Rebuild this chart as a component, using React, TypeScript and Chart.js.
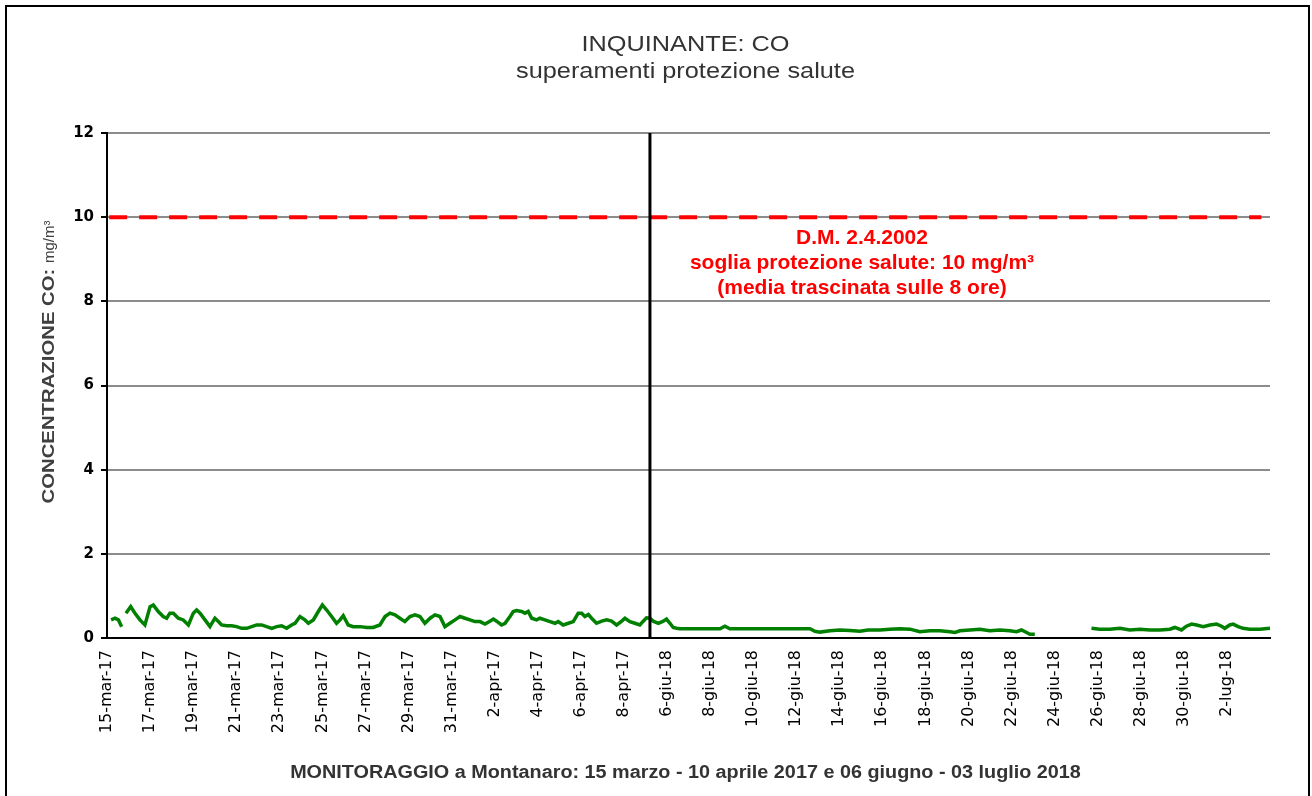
import React, { useEffect, useRef } from "react";
import { Chart, registerables } from "chart.js";
Chart.register(...registerables);

// ---- data ----
const TICK_LABELS = [
  "15-mar-17", "17-mar-17", "19-mar-17", "21-mar-17", "23-mar-17", "25-mar-17", "27-mar-17",
  "29-mar-17", "31-mar-17", "2-apr-17", "4-apr-17", "6-apr-17", "8-apr-17",
  "6-giu-18", "8-giu-18", "10-giu-18", "12-giu-18", "14-giu-18", "16-giu-18", "18-giu-18",
  "20-giu-18", "22-giu-18", "24-giu-18", "26-giu-18", "28-giu-18", "30-giu-18", "2-lug-18",
];
const Y_TICKS = [0, 2, 4, 6, 8, 10, 12];

// day offset on the monitoring axis (days since 15-mar-17 start, with the 2018 period following)
const DAYS_2017 = [
  0.19, 0.37, 0.53, 0.68, 0.78, 0.88, 1.10, 1.30, 1.53, 1.76, 2.00, 2.15, 2.38, 2.61, 2.77, 2.92,
  3.08, 3.31, 3.54, 3.78, 4.01, 4.16, 4.32, 4.55, 4.78, 5.01, 5.17, 5.32, 5.56, 5.79, 6.02, 6.25,
  6.49, 6.72, 6.95, 7.18, 7.41, 7.65, 7.88, 8.11, 8.34, 8.57, 8.73, 8.96, 9.19, 9.35, 9.58, 9.81,
  10.0, 10.2, 10.43, 10.66, 10.82, 10.97, 11.2, 11.43, 11.75, 12.06, 12.36, 12.67, 12.91, 13.14,
  13.37, 13.6, 13.83, 14.07, 14.3, 14.53, 14.76, 15.0, 15.23, 15.46, 15.69, 15.92, 16.16, 16.39,
  16.62, 16.85, 17.08, 17.32, 17.55, 17.78, 17.94, 18.09, 18.32, 18.48, 18.71, 18.86, 19.02, 19.25,
  19.41, 19.56, 19.72, 19.95, 20.1, 20.33, 20.57, 20.8, 20.95, 21.18, 21.42, 21.65, 21.88, 22.04,
  22.19, 22.35, 22.5, 22.73, 22.97, 23.2, 23.43, 23.66, 23.9, 24.05, 24.28, 24.51, 24.74, 24.9,
  25.05, 25.21,
];
const CO_2017 = [
  0.43, 0.47, 0.43, 0.27, null, 0.59, 0.745, 0.59, 0.43, 0.31, 0.745, 0.785, 0.63, 0.51, 0.47, 0.59,
  0.59, 0.47, 0.43, 0.31, 0.59, 0.665, 0.59, 0.43, 0.27, 0.47, 0.39, 0.31, 0.29, 0.29, 0.27, 0.23,
  0.23, 0.27, 0.31, 0.31, 0.27, 0.23, 0.27, 0.29, 0.23, 0.31, 0.35, 0.51, 0.43, 0.35, 0.43, 0.63,
  0.785, 0.665, 0.51, 0.35, 0.43, 0.53, 0.31, 0.27, 0.27, 0.25, 0.25, 0.31, 0.51, 0.59,
  0.55, 0.47, 0.39, 0.51, 0.55, 0.51, 0.35, 0.47, 0.55, 0.51, 0.27, 0.35, 0.43, 0.51,
  0.47, 0.43, 0.39, 0.39, 0.33, 0.40, 0.45, 0.40, 0.31, 0.35, 0.51, 0.63, 0.65, 0.63,
  0.59, 0.63, 0.47, 0.43, 0.47, 0.43, 0.39, 0.35, 0.39, 0.31, 0.35, 0.39, 0.59, 0.59,
  0.51, 0.56, 0.47, 0.35, 0.40, 0.43, 0.40, 0.31, 0.40, 0.47, 0.39, 0.35, 0.31, 0.40,
  0.48, 0.47,
];
const DAYS_2018 = [
  25.21, 25.36, 25.6, 25.83, 25.98, 26.14, 26.29, 26.45, 26.6, 27.53, 28.46, 28.69, 28.92, 29.85,
  30.78, 31.71, 32.64, 32.87, 33.1, 33.57, 34.03, 34.49, 34.96, 35.33, 35.89, 36.35, 36.82, 37.28,
  37.74, 38.21, 38.67, 39.14, 39.37, 39.6, 40.07, 40.53, 40.99, 41.46, 41.92, 42.23, 42.46, 42.7,
  42.85, 43.08, 43.2, 45.71, 46.1, 46.56, 47.03, 47.49, 47.96, 48.42, 48.89, 49.35, 49.58, 49.89,
  50.12, 50.36, 50.59, 50.9, 51.21, 51.52, 51.75, 51.9, 52.13, 52.29, 52.52, 52.75, 53.06, 53.53,
  54.0,
];
const CO_2018 = [
  0.47, 0.40, 0.35, 0.40, 0.45, 0.35, 0.25, 0.23, 0.22, 0.22, 0.22, 0.28, 0.22, 0.22,
  0.22, 0.22, 0.22, 0.16, 0.14, 0.17, 0.19, 0.18, 0.16, 0.19, 0.19, 0.21, 0.22, 0.21,
  0.15, 0.17, 0.17, 0.15, 0.13, 0.17, 0.19, 0.21, 0.17, 0.19, 0.17, 0.15, 0.19, 0.13,
  0.09, 0.09, null, 0.23, 0.21, 0.21, 0.23, 0.19, 0.21, 0.19, 0.19, 0.21, 0.25, 0.19,
  0.28, 0.33, 0.31, 0.27, 0.31, 0.33, 0.28, 0.23, 0.31, 0.33, 0.27, 0.23, 0.21, 0.21,
  0.23,
];

const THRESHOLD = 10;
const THRESHOLD_SPAN = [0.1, 53.6];
const PERIOD_BREAK = 25.21;

const TITLE = "INQUINANTE: CO";
const SUBTITLE = "superamenti protezione salute";
const NOTE_LINES = [
  "D.M. 2.4.2002",
  "soglia protezione salute: 10 mg/m³",
  "(media trascinata sulle 8 ore)",
];
const Y_TITLE_BOLD = "CONCENTRAZIONE CO:";
const Y_TITLE_UNIT = "mg/m³";
const X_TITLE = "MONITORAGGIO a Montanaro: 15 marzo - 10 aprile 2017 e 06 giugno - 03 luglio 2018";

const SANS = '"Liberation Sans", Arial, sans-serif';

function drawText(
  ctx: CanvasRenderingContext2D,
  s: string,
  x: number,
  y: number,
  font: string,
  color: string,
  sx = 1
) {
  ctx.save();
  ctx.font = font;
  ctx.fillStyle = color;
  ctx.textAlign = "center";
  ctx.textBaseline = "alphabetic";
  ctx.translate(x, y);
  ctx.scale(sx, 1);
  ctx.fillText(s, 0, 0);
  ctx.restore();
}

const decorPlugin = {
  id: "decor",
  beforeDraw(chart: any) {
    const ctx = chart.ctx as CanvasRenderingContext2D;
    ctx.save();
    ctx.fillStyle = "#fff";
    ctx.fillRect(0, 0, chart.width, chart.height);
    ctx.strokeStyle = "#000";
    ctx.lineWidth = 2;
    ctx.strokeRect(6, 6, 1303, 900);
    ctx.restore();
  },
  afterDraw(chart: any) {
    const ctx = chart.ctx as CanvasRenderingContext2D;
    const a = chart.chartArea;
    const cx = (a.left + a.right) / 2 - 3;
    // titles
    drawText(ctx, TITLE, cx, 51, `22px ${SANS}`, "#333", 1.15);
    drawText(ctx, SUBTITLE, cx, 78, `22px ${SANS}`, "#333", 1.15);
    // red note
    const nx = 862;
    [244, 269, 294].forEach((by, i) =>
      drawText(ctx, NOTE_LINES[i], nx, by, `bold 21px ${SANS}`, "#ff0000")
    );
    // y title
    ctx.save();
    ctx.translate(54, 362);
    ctx.rotate(-Math.PI / 2);
    ctx.fillStyle = "#404040";
    ctx.textBaseline = "alphabetic";
    ctx.textAlign = "left";
    const boldFont = `bold 16px ${SANS}`;
    const regFont = `15px ${SANS}`;
    const bsx = 1.27;
    ctx.font = boldFont;
    const w1 = ctx.measureText(Y_TITLE_BOLD + " ").width * bsx;
    ctx.font = regFont;
    const w2 = ctx.measureText(Y_TITLE_UNIT).width;
    const start = -(w1 + w2) / 2;
    ctx.save();
    ctx.translate(start, 0);
    ctx.scale(bsx, 1);
    ctx.font = boldFont;
    ctx.fillText(Y_TITLE_BOLD, 0, 0);
    ctx.restore();
    ctx.font = regFont;
    ctx.fillText(Y_TITLE_UNIT, start + w1, 0);
    ctx.restore();
    // bottom caption
    drawText(ctx, X_TITLE, cx, 778, `bold 18px ${SANS}`, "#333", 1.1);
  },
};

export default function App() {
  const ref = useRef<HTMLCanvasElement | null>(null);
  useEffect(() => {
    document.body.style.margin = "0";
    const canvas = ref.current!;
    const pts = (xs: number[], ys: (number | null)[]) => xs.map((x, i) => ({ x, y: ys[i] }));
    const chart = new Chart(canvas, {
      type: "line",
      data: {
        datasets: [
          {
            label: "break",
            data: [
              { x: PERIOD_BREAK, y: Y_TICKS[0] },
              { x: PERIOD_BREAK, y: Y_TICKS[Y_TICKS.length - 1] },
            ],
            borderColor: "#000",
            borderWidth: 3,
            pointRadius: 0,
            order: 0,
          },
          {
            label: "CO 2017",
            data: pts(DAYS_2017, CO_2017),
            borderColor: "#008000",
            borderWidth: 3.5,
            pointRadius: 0,
            spanGaps: false,
            order: 1,
          },
          {
            label: "CO 2018",
            data: pts(DAYS_2018, CO_2018),
            borderColor: "#008000",
            borderWidth: 3.5,
            pointRadius: 0,
            spanGaps: false,
            order: 1,
          },
          {
            label: "soglia",
            data: THRESHOLD_SPAN.map((x) => ({ x, y: THRESHOLD })),
            borderColor: "#ff0000",
            borderWidth: 4,
            borderDash: [18, 12],
            pointRadius: 0,
            order: 2,
          },
        ] as any,
      },
      options: {
        responsive: false,
        animation: false,
        devicePixelRatio: 1,
        layout: { padding: { left: 0, right: 42, top: 133, bottom: 0 } },
        plugins: {
          legend: { display: false },
          tooltip: { enabled: false },
          title: { display: false },
        },
        scales: {
          x: {
            type: "linear",
            min: 0,
            max: 54,
            afterFit: (s: any) => {
              s.height = 158;
            },
            afterBuildTicks: (s: any) => {
              s.ticks = TICK_LABELS.map((_, i) => ({ value: i * 2 }));
            },
            ticks: {
              autoSkip: false,
              maxRotation: 90,
              minRotation: 90,
              padding: 12,
              color: "#000",
              font: { family: '"DejaVu Sans"', size: 16 },
              callback: (v: any) => TICK_LABELS[Math.round(Number(v) / 2)] ?? "",
            },
            grid: { display: false, drawTicks: false },
            border: { display: true, color: "#000", width: 2 },
          },
          y: {
            min: 0,
            max: 12,
            afterFit: (s: any) => {
              s.width = 107;
            },
            afterBuildTicks: (s: any) => {
              s.ticks = Y_TICKS.map((v) => ({ value: v }));
            },
            ticks: {
              padding: 7,
              color: "#000",
              font: { family: '"DejaVu Sans"', size: 15, weight: "bold" },
              callback: (v: any) => String(v),
            },
            grid: {
              color: (c: any) => (c.tick && c.tick.value === 0 ? "rgba(0,0,0,0)" : "#8c8c8c"),
              lineWidth: 2,
              tickColor: "#000",
              tickLength: 6,
              drawTicks: true,
            },
            border: { display: true, color: "#000", width: 2 },
          },
        },
      } as any,
      plugins: [decorPlugin],
    });
    return () => chart.destroy();
  }, []);
  return <canvas ref={ref} width={1312} height={796} style={{ display: "block", width: 1312, height: 796 }} />;
}
